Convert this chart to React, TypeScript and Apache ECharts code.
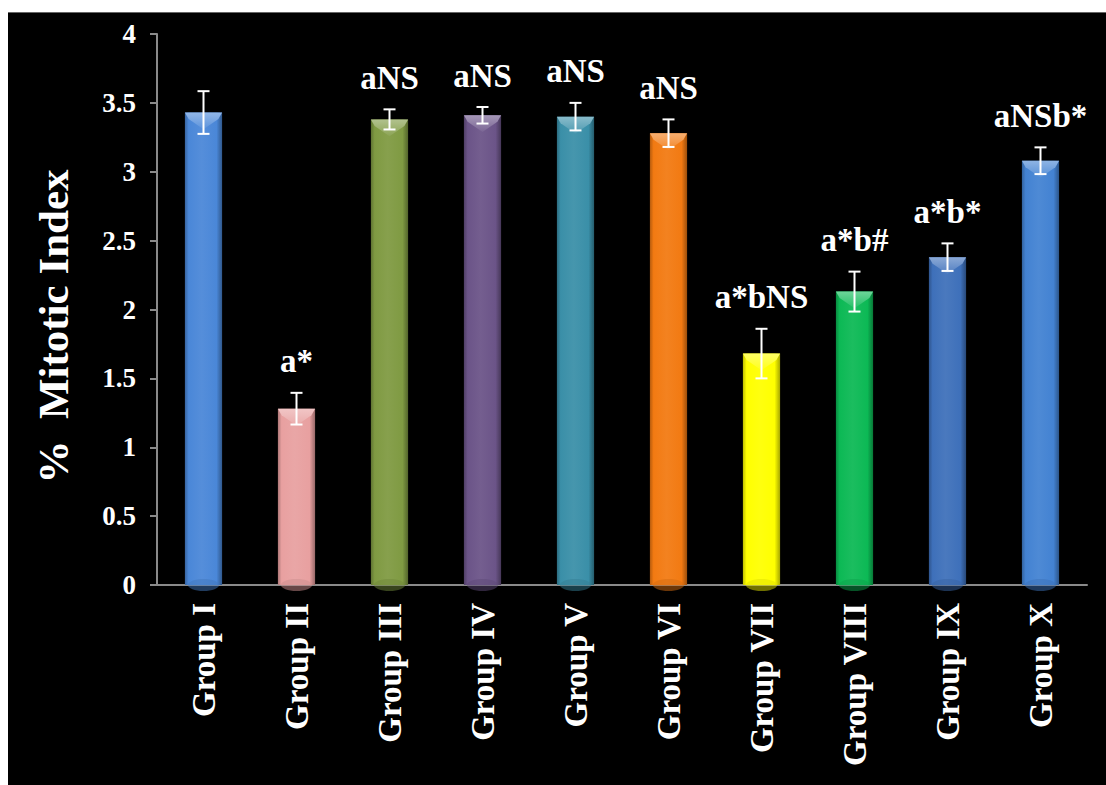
import React, { useEffect, useRef } from "react";
import * as echarts from "echarts";

const categories = ["Group I", "Group II", "Group III", "Group IV", "Group V", "Group VI", "Group VII", "Group VIII", "Group IX", "Group X"];
const values = [3.43, 1.28, 3.38, 3.41, 3.4, 3.28, 1.68, 2.13, 2.38, 3.08];
const errors = [0.155, 0.115, 0.073, 0.06, 0.1, 0.1, 0.18, 0.145, 0.1, 0.097];
const annotations = ["", "a*", "aNS", "aNS", "aNS", "aNS", "a*bNS", "a*b#", "a*b*", "aNSb*"];
const barColors = ["#4a87d8", "#e8a0a0", "#7f9a42", "#6b5488", "#3a8fa8", "#f27a12", "#ffff00", "#0cb955", "#3e70ba", "#4382d2"];

const FONT = "'Liberation Serif', 'Times New Roman', serif";

function adjust(hex: string, f: number): string {
  const n = parseInt(hex.slice(1), 16);
  let r = (n >> 16) & 255, g = (n >> 8) & 255, b = n & 255;
  if (f < 0) {
    r = Math.round(r * (1 + f)); g = Math.round(g * (1 + f)); b = Math.round(b * (1 + f));
  } else {
    r = Math.round(r + (255 - r) * f); g = Math.round(g + (255 - g) * f); b = Math.round(b + (255 - b) * f);
  }
  return `rgb(${r},${g},${b})`;
}

export default function App() {
  const ref = useRef<HTMLDivElement>(null);
  useEffect(() => {
    if (!ref.current) return;
    const chart = echarts.init(ref.current, null, { renderer: "svg" });
    const data = values.map((v, i) => [i, v, errors[i]]);
    chart.setOption({
      animation: false,
      backgroundColor: "#000",
      grid: { left: 149, right: 19, top: 21, bottom: 200 },
      xAxis: {
        type: "category",
        data: categories,
        boundaryGap: true,
        axisLine: { lineStyle: { color: "#8a8a8a", width: 2 } },
        axisTick: { alignWithLabel: true, length: 8, lineStyle: { color: "#8a8a8a", width: 2 } },
        axisLabel: { rotate: 90, margin: 18, color: "#fff", fontFamily: FONT, fontWeight: "bold", fontSize: 33 },
      },
      yAxis: {
        type: "value",
        min: 0,
        max: 4,
        interval: 0.5,
        name: "%  Mitotic Index",
        nameLocation: "middle",
        nameRotate: 90,
        nameGap: 82,
        nameTextStyle: { color: "#fff", fontFamily: FONT, fontWeight: "bold", fontSize: 43, padding: [0, 34, 0, 0] },
        splitLine: { show: false },
        axisLine: { show: true, lineStyle: { color: "#8a8a8a", width: 2 } },
        axisTick: { show: true, length: 7, lineStyle: { color: "#8a8a8a", width: 2 } },
        axisLabel: { margin: 21, color: "#fff", fontFamily: FONT, fontWeight: "bold", fontSize: 27 },
      },
      series: [
        {
          type: "custom",
          name: "bars",
          encode: { x: 0, y: 1 },
          data,
          renderItem: (params: any, api: any) => {
            const i = api.value(0);
            const v = api.value(1);
            const top = api.coord([i, v]);
            const base = api.coord([i, 0]);
            const bw = api.size([1, 0])[0] * 0.4;
            const x0 = top[0] - bw / 2;
            const x1 = top[0] + bw / 2;
            const y0 = top[1];
            const h = base[1] - y0;
            const c = barColors[params.dataIndex];
            const bev = Math.min(bw * 0.5, h * 0.5);
            return {
              type: "group",
              children: [
                {
                  type: "rect",
                  shape: { x: x0, y: y0, width: bw, height: h },
                  style: {
                    fill: {
                      type: "linear", x: 0, y: 0, x2: 1, y2: 0,
                      colorStops: [
                        { offset: 0, color: adjust(c, -0.25) },
                        { offset: 0.1, color: adjust(c, 0) },
                        { offset: 0.45, color: adjust(c, 0.06) },
                        { offset: 0.85, color: adjust(c, 0) },
                        { offset: 1, color: adjust(c, -0.35) },
                      ],
                    },
                  },
                },
                {
                  type: "polygon",
                  shape: { points: [[x0, y0], [x1, y0], [x1 - bw * 0.1, y0 + bev * 0.35], [top[0], y0 + bev * 0.9], [x0 + bw * 0.1, y0 + bev * 0.35]] },
                  style: {
                    fill: {
                      type: "linear", x: 0, y: 0, x2: 0, y2: 1,
                      colorStops: [
                        { offset: 0, color: adjust(c, 0.4) },
                        { offset: 1, color: adjust(c, 0.1) },
                      ],
                    },
                  },
                },
                {
                  type: "ellipse",
                  shape: { cx: top[0], cy: base[1], rx: bw * 0.42, ry: 6 },
                  style: { fill: adjust(c, -0.12), opacity: 0.5 },
                },
              ],
            };
          },
          z: 2,
        },
        {
          type: "custom",
          name: "errors",
          encode: { x: 0, y: 1 },
          data,
          renderItem: (params: any, api: any) => {
            const i = api.value(0);
            const v = api.value(1);
            const e = api.value(2);
            const hi = api.coord([i, v + e]);
            const lo = api.coord([i, v - e]);
            const cap = 6;
            const ls = { stroke: "#fff", lineWidth: 2 };
            const txt = annotations[params.dataIndex];
            const children: any[] = [
              { type: "line", shape: { x1: hi[0], y1: hi[1], x2: lo[0], y2: lo[1] }, style: ls },
              { type: "line", shape: { x1: hi[0] - cap, y1: hi[1], x2: hi[0] + cap, y2: hi[1] }, style: ls },
              { type: "line", shape: { x1: lo[0] - cap, y1: lo[1], x2: lo[0] + cap, y2: lo[1] }, style: ls },
            ];
            if (txt) {
              children.push({
                type: "text",
                x: hi[0],
                y: hi[1] - 15,
                style: {
                  text: txt,
                  fill: "#fff",
                  font: `bold 33px ${FONT}`,
                  textAlign: "center",
                  textVerticalAlign: "bottom",
                },
              });
            }
            return { type: "group", children };
          },
          z: 3,
        },
      ],
    });
    return () => chart.dispose();
  }, []);
  return (
    <div style={{ position: "fixed", left: 8, top: 12, width: 1098, height: 772, borderTop: "1px solid #666", background: "#000" }}>
      <div ref={ref} style={{ width: 1098, height: 772 }} />
    </div>
  );
}
